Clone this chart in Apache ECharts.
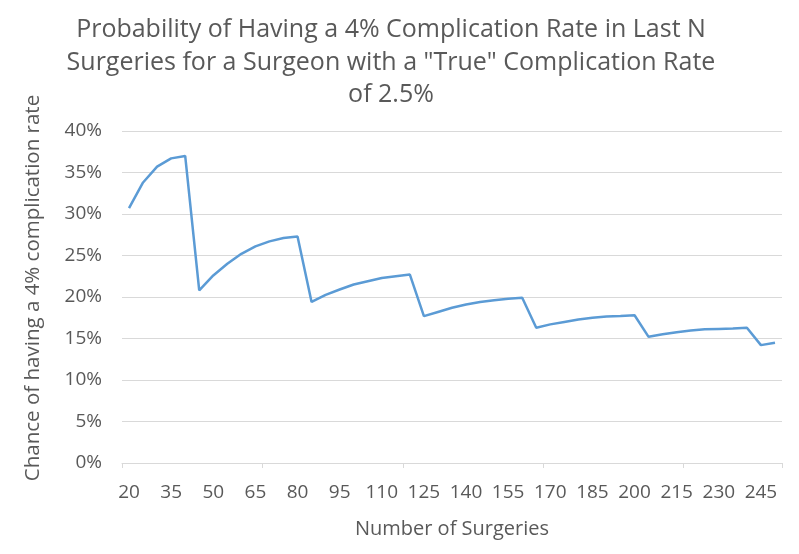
<!DOCTYPE html>
<html>
<head>
<meta charset="utf-8">
<script src="https://cdn.jsdelivr.net/npm/echarts@6/dist/echarts.min.js"></script>
<style>html,body{margin:0;padding:0;background:#fff}#c{width:799px;height:554px}</style>
</head>
<body>
<div id="c"></div>
<script>
const titleText = 'Probability of Having a 4% Complication Rate in Last N\nSurgeries for a Surgeon with a "True" Complication Rate\nof 2.5%';
const xAxisName = 'Number of Surgeries';
const yAxisName = 'Chance of having a 4% complication rate';
const surgeries = [20,25,30,35,40,45,50,55,60,65,70,75,80,85,90,95,100,105,110,115,120,125,130,135,140,145,150,155,160,165,170,175,180,185,190,195,200,205,210,215,220,225,230,235,240,245,250];
const chancePct = [30.7,33.8,35.7,36.7,37.0,20.8,22.6,24.0,25.2,26.1,26.7,27.1,27.3,19.4,20.25,20.9,21.5,21.9,22.3,22.5,22.7,17.7,18.2,18.7,19.1,19.4,19.6,19.8,19.9,16.3,16.7,17.0,17.3,17.5,17.65,17.7,17.8,15.2,15.5,15.75,15.95,16.1,16.15,16.2,16.3,14.2,14.5];
const yTicks = [0,5,10,15,20,25,30,35,40];

const font = '"Open Sans", Lato, sans-serif';
const grey = '#595959';
const chart = echarts.init(document.getElementById('c'));
chart.setOption({
  animation: false,
  title: {
    text: titleText,
    left: 391,
    top: 14,
    padding: 0,
    textAlign: 'center',
    textStyle: { fontFamily: font, fontSize: 25, fontWeight: 'normal', color: grey, lineHeight: 32.5 }
  },
  grid: { left: 122, right: 17, top: 131, bottom: 91 },
  xAxis: {
    type: 'category',
    data: surgeries.map(String),
    boundaryGap: true,
    name: xAxisName,
    nameLocation: 'middle',
    nameGap: 56,
    nameTextStyle: { fontFamily: font, fontSize: 20, color: grey },
    axisLine: { lineStyle: { color: '#D9D9D9', width: 1 } },
    axisTick: { show: true, interval: 9, length: 5, lineStyle: { color: '#D9D9D9' } },
    axisLabel: { interval: 2, margin: 20, fontFamily: font, fontSize: 19, color: grey }
  },
  yAxis: {
    type: 'value',
    min: yTicks[0],
    max: yTicks[yTicks.length - 1],
    interval: 5,
    name: yAxisName,
    nameLocation: 'middle',
    nameRotate: 90,
    nameGap: 78,
    nameTextStyle: { fontFamily: font, fontSize: 20.5, color: grey, padding: [0, 0, 0, 18] },
    axisLine: { show: false },
    axisTick: { show: false },
    splitLine: { lineStyle: { color: '#D9D9D9', width: 1 } },
    axisLabel: { margin: 20, fontFamily: font, fontSize: 19, color: grey, formatter: '{value}%' }
  },
  series: [{
    type: 'line',
    data: chancePct,
    showSymbol: false,
    symbol: 'none',
    lineStyle: { color: '#5B9BD5', width: 2.5 },
    itemStyle: { color: '#5B9BD5' }
  }]
});
</script>
</body>
</html>
